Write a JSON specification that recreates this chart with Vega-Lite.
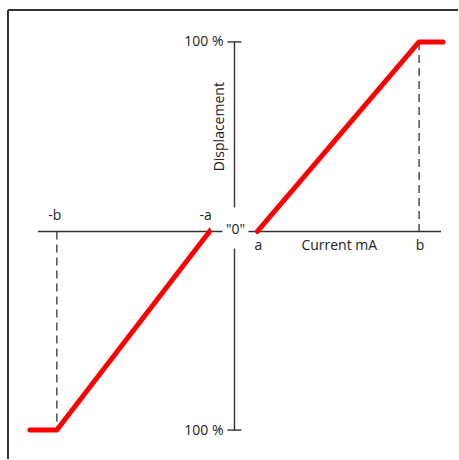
{
  "$schema": "https://vega.github.io/schema/vega-lite/v6.json",
  "width": 459,
  "height": 460,
  "padding": 0,
  "autosize": {"type": "fit", "contains": "padding"},
  "config": {"view": {"stroke": null}, "text": {"font": "Open Sans", "fontSize": 14, "color": "#222"}},
  "datasets": {
    "frame": [
      {"x": -227, "x2": 224, "y": 222, "y2": 222},
      {"x": -227, "x2": -227, "y": 222, "y2": -228}
    ],
    "axes": [
      {"x": -197, "x2": 207, "y": 0, "y2": 0},
      {"x": 0, "x2": 0, "y": 190, "y2": -199},
      {"x": -7, "x2": 7, "y": 190, "y2": 190},
      {"x": -7, "x2": 7, "y": -199, "y2": -199},
      {"x": -25, "x2": -25, "y": 4, "y2": -4}
    ],
    "dashes": [
      {"x": -178, "x2": -178, "y": 0, "y2": -199},
      {"x": 185, "x2": 185, "y": 190, "y2": 0}
    ],
    "curve": [
      {"seg": "neg", "ord": 1, "x": -205, "y": -199},
      {"seg": "neg", "ord": 2, "x": -178, "y": -199},
      {"seg": "neg", "ord": 3, "x": -25, "y": 0},
      {"seg": "pos", "ord": 1, "x": 23, "y": 0},
      {"seg": "pos", "ord": 2, "x": 185, "y": 190},
      {"seg": "pos", "ord": 3, "x": 209, "y": 190}
    ],
    "gap": [{"x": -12, "x2": 14, "y": 24, "y2": -17}],
    "labels": [
      {"t": "-b", "x": -180, "y": 16},
      {"t": "-a", "x": -29, "y": 16},
      {"t": "a", "x": 24, "y": -15},
      {"t": "b", "x": 186, "y": -15},
      {"t": "Current mA", "x": 105, "y": -15},
      {"t": "\"0\"", "x": 1, "y": 2}
    ],
    "pct": [
      {"t": "100 %", "x": -11, "y": 190},
      {"t": "100 %", "x": -11, "y": -200}
    ],
    "ylabel": [{"t": "Displacement", "x": -15, "y": 105}]
  },
  "layer": [
    {
      "data": {"name": "frame"},
      "mark": {"type": "rule", "stroke": "#333", "strokeWidth": 2},
      "encoding": {
        "x": {"field": "x", "type": "quantitative", "scale": {"domain": [-235, 224], "nice": false, "zero": false}, "axis": null},
        "x2": {"field": "x2"},
        "y": {"field": "y", "type": "quantitative", "scale": {"domain": [-228, 232], "nice": false, "zero": false}, "axis": null},
        "y2": {"field": "y2"}
      }
    },
    {
      "data": {"name": "axes"},
      "mark": {"type": "rule", "stroke": "#333", "strokeWidth": 1.4},
      "encoding": {
        "x": {"field": "x", "type": "quantitative", "scale": {"domain": [-235, 224], "nice": false, "zero": false}, "axis": null},
        "x2": {"field": "x2"},
        "y": {"field": "y", "type": "quantitative", "scale": {"domain": [-228, 232], "nice": false, "zero": false}, "axis": null},
        "y2": {"field": "y2"}
      }
    },
    {
      "data": {"name": "dashes"},
      "mark": {"type": "rule", "stroke": "#222", "strokeWidth": 1.2, "strokeDash": [8, 5]},
      "encoding": {
        "x": {"field": "x", "type": "quantitative", "scale": {"domain": [-235, 224], "nice": false, "zero": false}, "axis": null},
        "x2": {"field": "x2"},
        "y": {"field": "y", "type": "quantitative", "scale": {"domain": [-228, 232], "nice": false, "zero": false}, "axis": null},
        "y2": {"field": "y2"}
      }
    },
    {
      "data": {"name": "gap"},
      "mark": {"type": "rect", "fill": "white"},
      "encoding": {
        "x": {"field": "x", "type": "quantitative", "scale": {"domain": [-235, 224], "nice": false, "zero": false}, "axis": null},
        "x2": {"field": "x2"},
        "y": {"field": "y", "type": "quantitative", "scale": {"domain": [-228, 232], "nice": false, "zero": false}, "axis": null},
        "y2": {"field": "y2"}
      }
    },
    {
      "data": {"name": "curve"},
      "mark": {"type": "line", "stroke": "#ff0000", "strokeWidth": 5, "strokeCap": "round", "strokeJoin": "round"},
      "encoding": {
        "x": {"field": "x", "type": "quantitative", "scale": {"domain": [-235, 224], "nice": false, "zero": false}, "axis": null},
        "y": {"field": "y", "type": "quantitative", "scale": {"domain": [-228, 232], "nice": false, "zero": false}, "axis": null},
        "detail": {"field": "seg"},
        "order": {"field": "ord", "type": "quantitative"}
      }
    },
    {
      "data": {"name": "labels"},
      "mark": {"type": "text", "baseline": "middle", "align": "center"},
      "encoding": {
        "x": {"field": "x", "type": "quantitative", "scale": {"domain": [-235, 224], "nice": false, "zero": false}, "axis": null},
        "y": {"field": "y", "type": "quantitative", "scale": {"domain": [-228, 232], "nice": false, "zero": false}, "axis": null},
        "text": {"field": "t"}
      }
    },
    {
      "data": {"name": "pct"},
      "mark": {"type": "text", "baseline": "middle", "align": "right"},
      "encoding": {
        "x": {"field": "x", "type": "quantitative", "scale": {"domain": [-235, 224], "nice": false, "zero": false}, "axis": null},
        "y": {"field": "y", "type": "quantitative", "scale": {"domain": [-228, 232], "nice": false, "zero": false}, "axis": null},
        "text": {"field": "t"}
      }
    },
    {
      "data": {"name": "ylabel"},
      "mark": {"type": "text", "baseline": "middle", "align": "center", "angle": 270},
      "encoding": {
        "x": {"field": "x", "type": "quantitative", "scale": {"domain": [-235, 224], "nice": false, "zero": false}, "axis": null},
        "y": {"field": "y", "type": "quantitative", "scale": {"domain": [-228, 232], "nice": false, "zero": false}, "axis": null},
        "text": {"field": "t"}
      }
    }
  ]
}
